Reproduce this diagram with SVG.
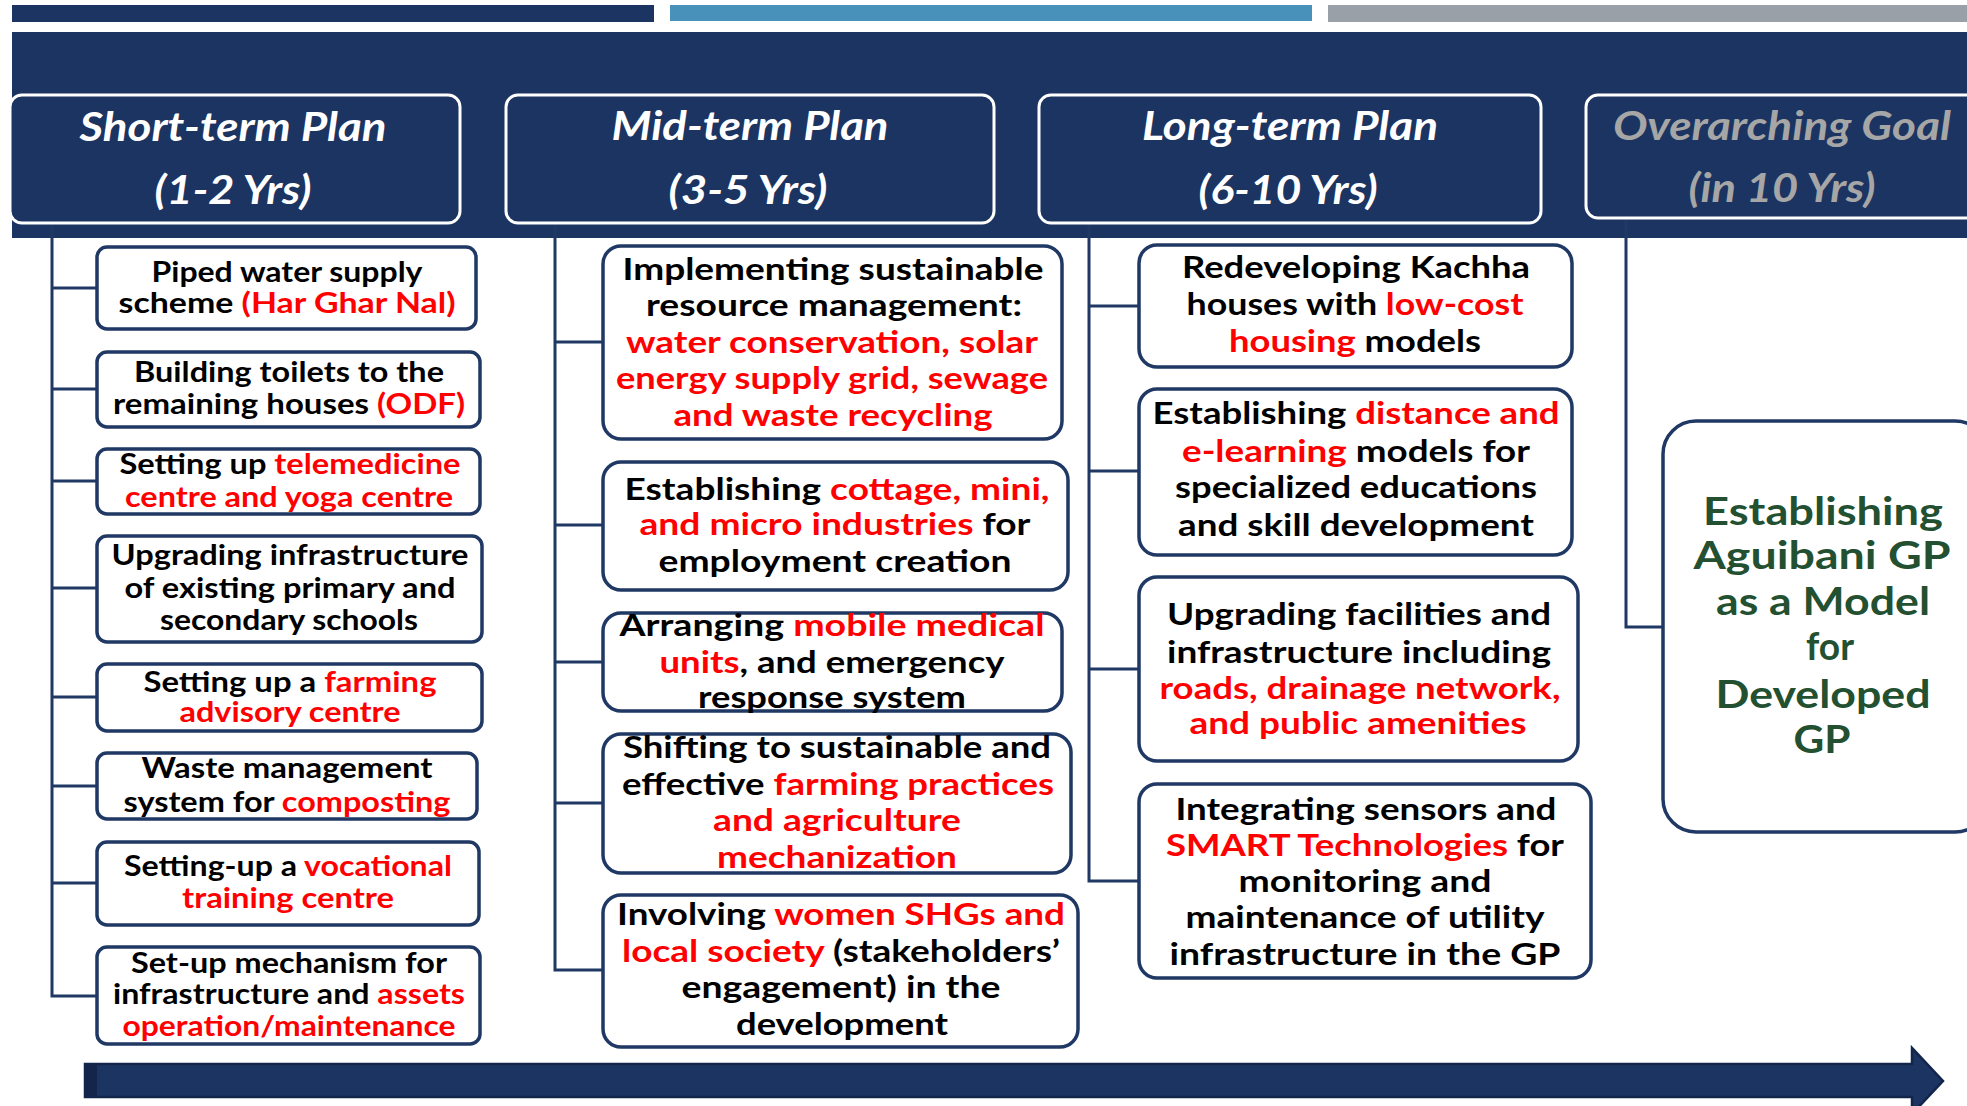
<svg xmlns="http://www.w3.org/2000/svg" width="1967" height="1106" viewBox="0 0 1967 1106">
<style>
.box{fill:#fff;stroke:#1f3864;stroke-width:3.5}
.hdr{fill:#1c3461;stroke:#fff;stroke-width:3}
.t{font-family:Lato,"Open Sans","Liberation Sans",sans-serif;font-weight:700;font-size:28px;fill:#000;text-anchor:middle}
.t2{font-size:29.5px}
.r{fill:#ff0000}
.h{font-family:Lato,"Open Sans","Liberation Sans",sans-serif;font-weight:700;font-style:italic;font-size:40px;fill:#fff;text-anchor:middle}
.gr{fill:#a6a6a6}
.goal{font-size:39px;fill:#235030}
.conn{stroke:#1f3864;stroke-width:3;fill:none}
</style>
<rect width="1967" height="1106" fill="#fff"/>
<g id="topbars">
<rect x="12" y="5" width="642" height="17" fill="#1c3461"/>
<rect x="670" y="5" width="642" height="16" fill="#4891ba"/>
<rect x="1328" y="5" width="639" height="17" fill="#9aa0a8"/>
</g>
<rect id="band" x="12" y="32" width="1955" height="206" fill="#1c3461"/>
<g id="connectors">
<path class="conn" d="M52,223 V996 H97 M52,288 H97 M52,389 H97 M52,481 H97 M52,588 H97 M52,697 H97 M52,786 H97 M52,883 H97"/>
<path class="conn" d="M555,223 V970 H603 M555,342 H603 M555,525 H603 M555,662 H603 M555,803 H603"/>
<path class="conn" d="M1089,223 V881 H1139 M1089,306 H1139 M1089,471 H1139 M1089,669 H1139"/>
<path class="conn" d="M1626,218 V627 H1663"/>
</g>
<g id="hdr-short">
<rect class="hdr" x="10" y="95" width="450" height="128" rx="12"/>
<text class="h" x="233" y="141" textLength="307" lengthAdjust="spacingAndGlyphs">Short-term Plan</text>
<text class="h" x="233" y="204" textLength="157" lengthAdjust="spacingAndGlyphs">(1-2 Yrs)</text>
</g>
<g id="hdr-mid">
<rect class="hdr" x="506" y="95" width="488" height="128" rx="12"/>
<text class="h" x="750" y="140" textLength="277" lengthAdjust="spacingAndGlyphs">Mid-term Plan</text>
<text class="h" x="748" y="204" textLength="159" lengthAdjust="spacingAndGlyphs">(3-5 Yrs)</text>
</g>
<g id="hdr-long">
<rect class="hdr" x="1039" y="95" width="502" height="128" rx="12"/>
<text class="h" x="1290" y="140" textLength="296" lengthAdjust="spacingAndGlyphs">Long-term Plan</text>
<text class="h" x="1288" y="204" textLength="179" lengthAdjust="spacingAndGlyphs">(6-10 Yrs)</text>
</g>
<g id="hdr-goal">
<rect class="hdr" x="1586" y="95" width="400" height="123" rx="12"/>
<text class="h gr" x="1782" y="140" textLength="338" lengthAdjust="spacingAndGlyphs">Overarching Goal</text>
<text class="h gr" x="1782" y="202" textLength="187" lengthAdjust="spacingAndGlyphs">(in 10 Yrs)</text>
</g>
<g id="s1">
<rect class="box" x="97" y="247" width="379" height="82" rx="10"/>
<text class="t" x="287" y="282" textLength="271" lengthAdjust="spacingAndGlyphs">Piped water supply</text>
<text class="t" x="287" y="313" textLength="337" lengthAdjust="spacingAndGlyphs">scheme <tspan class="r">(Har Ghar Nal)</tspan></text>
</g>
<g id="s2">
<rect class="box" x="97" y="352" width="383" height="75" rx="10"/>
<text class="t" x="289" y="382" textLength="310" lengthAdjust="spacingAndGlyphs">Building toilets to the</text>
<text class="t" x="289" y="414" textLength="352" lengthAdjust="spacingAndGlyphs">remaining houses <tspan class="r">(ODF)</tspan></text>
</g>
<g id="s3">
<rect class="box" x="97" y="449" width="383" height="65" rx="10"/>
<text class="t" x="290" y="474" textLength="341" lengthAdjust="spacingAndGlyphs">Setting up <tspan class="r">telemedicine</tspan></text>
<text class="t r" x="289" y="507" textLength="328" lengthAdjust="spacingAndGlyphs">centre and yoga centre</text>
</g>
<g id="s4">
<rect class="box" x="97" y="536" width="385" height="106" rx="10"/>
<text class="t" x="290" y="565" textLength="357" lengthAdjust="spacingAndGlyphs">Upgrading infrastructure</text>
<text class="t" x="290" y="598" textLength="331" lengthAdjust="spacingAndGlyphs">of existing primary and</text>
<text class="t" x="289" y="630" textLength="258" lengthAdjust="spacingAndGlyphs">secondary schools</text>
</g>
<g id="s5">
<rect class="box" x="97" y="664" width="385" height="67" rx="10"/>
<text class="t" x="290" y="692" textLength="293" lengthAdjust="spacingAndGlyphs">Setting up a <tspan class="r">farming</tspan></text>
<text class="t r" x="290" y="722" textLength="221" lengthAdjust="spacingAndGlyphs">advisory centre</text>
</g>
<g id="s6">
<rect class="box" x="97" y="753" width="380" height="66" rx="10"/>
<text class="t" x="287" y="778" textLength="291" lengthAdjust="spacingAndGlyphs">Waste management</text>
<text class="t" x="287" y="812" textLength="327" lengthAdjust="spacingAndGlyphs">system for <tspan class="r">composting</tspan></text>
</g>
<g id="s7">
<rect class="box" x="97" y="842" width="382" height="83" rx="10"/>
<text class="t" x="288" y="876" textLength="328" lengthAdjust="spacingAndGlyphs">Setting-up a <tspan class="r">vocational</tspan></text>
<text class="t r" x="288" y="908" textLength="212" lengthAdjust="spacingAndGlyphs">training centre</text>
</g>
<g id="s8">
<rect class="box" x="97" y="947" width="383" height="97" rx="10"/>
<text class="t" x="289" y="973" textLength="316" lengthAdjust="spacingAndGlyphs">Set-up mechanism for</text>
<text class="t" x="289" y="1004" textLength="352" lengthAdjust="spacingAndGlyphs">infrastructure and <tspan class="r">assets</tspan></text>
<text class="t r" x="289" y="1036" textLength="333" lengthAdjust="spacingAndGlyphs">operation/maintenance</text>
</g>
<g id="m1">
<rect class="box" x="603" y="246" width="459" height="193" rx="18"/>
<text class="t t2" x="833" y="280" textLength="421" lengthAdjust="spacingAndGlyphs">Implementing sustainable</text>
<text class="t t2" x="834" y="316" textLength="376" lengthAdjust="spacingAndGlyphs">resource management:</text>
<text class="t t2 r" x="832" y="353" textLength="412" lengthAdjust="spacingAndGlyphs">water conservation, solar</text>
<text class="t t2 r" x="832" y="389" textLength="432" lengthAdjust="spacingAndGlyphs">energy supply grid, sewage</text>
<text class="t t2 r" x="833" y="426" textLength="319" lengthAdjust="spacingAndGlyphs">and waste recycling</text>
</g>
<g id="m2">
<rect class="box" x="603" y="462" width="465" height="128" rx="18"/>
<text class="t t2" x="837" y="500" textLength="425" lengthAdjust="spacingAndGlyphs">Establishing <tspan class="r">cottage, mini,</tspan></text>
<text class="t t2" x="835" y="535" textLength="391" lengthAdjust="spacingAndGlyphs"><tspan class="r">and micro industries</tspan> for</text>
<text class="t t2" x="835" y="572" textLength="353" lengthAdjust="spacingAndGlyphs">employment creation</text>
</g>
<g id="m3">
<rect class="box" x="603" y="613" width="459" height="98" rx="18"/>
<text class="t t2" x="832" y="636" textLength="425" lengthAdjust="spacingAndGlyphs">Arranging <tspan class="r">mobile medical</tspan></text>
<text class="t t2" x="832" y="673" textLength="345" lengthAdjust="spacingAndGlyphs"><tspan class="r">units</tspan>, and emergency</text>
<text class="t t2" x="832" y="708" textLength="268" lengthAdjust="spacingAndGlyphs">response system</text>
</g>
<g id="m4">
<rect class="box" x="603" y="734" width="468" height="139" rx="18"/>
<text class="t t2" x="837" y="758" textLength="428" lengthAdjust="spacingAndGlyphs">Shifting to sustainable and</text>
<text class="t t2" x="838" y="795" textLength="432" lengthAdjust="spacingAndGlyphs">effective <tspan class="r">farming practices</tspan></text>
<text class="t t2 r" x="837" y="831" textLength="248" lengthAdjust="spacingAndGlyphs">and agriculture</text>
<text class="t t2 r" x="837" y="868" textLength="240" lengthAdjust="spacingAndGlyphs">mechanization</text>
</g>
<g id="m5">
<rect class="box" x="603" y="895" width="475" height="152" rx="18"/>
<text class="t t2" x="841" y="925" textLength="448" lengthAdjust="spacingAndGlyphs">Involving <tspan class="r">women SHGs and</tspan></text>
<text class="t t2" x="841" y="962" textLength="438" lengthAdjust="spacingAndGlyphs"><tspan class="r">local society</tspan> (stakeholders’</text>
<text class="t t2" x="841" y="998" textLength="319" lengthAdjust="spacingAndGlyphs">engagement) in the</text>
<text class="t t2" x="842" y="1035" textLength="212" lengthAdjust="spacingAndGlyphs">development</text>
</g>
<g id="l1">
<rect class="box" x="1139" y="245" width="433" height="122" rx="18"/>
<text class="t t2" x="1356" y="278" textLength="348" lengthAdjust="spacingAndGlyphs">Redeveloping Kachha</text>
<text class="t t2" x="1355" y="315" textLength="337" lengthAdjust="spacingAndGlyphs">houses with <tspan class="r">low-cost</tspan></text>
<text class="t t2" x="1355" y="352" textLength="252" lengthAdjust="spacingAndGlyphs"><tspan class="r">housing</tspan> models</text>
</g>
<g id="l2">
<rect class="box" x="1139" y="389" width="433" height="166" rx="18"/>
<text class="t t2" x="1356" y="424" textLength="407" lengthAdjust="spacingAndGlyphs">Establishing <tspan class="r">distance and</tspan></text>
<text class="t t2" x="1356" y="462" textLength="348" lengthAdjust="spacingAndGlyphs"><tspan class="r">e-learning</tspan> models for</text>
<text class="t t2" x="1356" y="498" textLength="362" lengthAdjust="spacingAndGlyphs">specialized educations</text>
<text class="t t2" x="1356" y="536" textLength="356" lengthAdjust="spacingAndGlyphs">and skill development</text>
</g>
<g id="l3">
<rect class="box" x="1139" y="577" width="439" height="184" rx="18"/>
<text class="t t2" x="1359" y="625" textLength="384" lengthAdjust="spacingAndGlyphs">Upgrading facilities and</text>
<text class="t t2" x="1359" y="663" textLength="384" lengthAdjust="spacingAndGlyphs">infrastructure including</text>
<text class="t t2 r" x="1360" y="699" textLength="401" lengthAdjust="spacingAndGlyphs">roads, drainage network,</text>
<text class="t t2 r" x="1358" y="734" textLength="337" lengthAdjust="spacingAndGlyphs">and public amenities</text>
</g>
<g id="l4">
<rect class="box" x="1139" y="784" width="452" height="194" rx="18"/>
<text class="t t2" x="1366" y="820" textLength="381" lengthAdjust="spacingAndGlyphs">Integrating sensors and</text>
<text class="t t2" x="1365" y="856" textLength="398" lengthAdjust="spacingAndGlyphs"><tspan class="r">SMART Technologies</tspan> for</text>
<text class="t t2" x="1365" y="892" textLength="253" lengthAdjust="spacingAndGlyphs">monitoring and</text>
<text class="t t2" x="1365" y="928" textLength="359" lengthAdjust="spacingAndGlyphs">maintenance of utility</text>
<text class="t t2" x="1365" y="965" textLength="391" lengthAdjust="spacingAndGlyphs">infrastructure in the GP</text>
</g>
<g id="goal">
<rect class="box" x="1663" y="421" width="325" height="411" rx="33"/>
<text class="t goal" x="1823" y="525" textLength="240" lengthAdjust="spacingAndGlyphs">Establishing</text>
<text class="t goal" x="1822" y="569" textLength="257" lengthAdjust="spacingAndGlyphs">Aguibani GP</text>
<text class="t goal" x="1823" y="615" textLength="214" lengthAdjust="spacingAndGlyphs">as a Model</text>
<text class="t goal" x="1830" y="660" textLength="48" lengthAdjust="spacingAndGlyphs">for</text>
<text class="t goal" x="1823" y="708" textLength="215" lengthAdjust="spacingAndGlyphs">Developed</text>
<text class="t goal" x="1822" y="753" textLength="57" lengthAdjust="spacingAndGlyphs">GP</text>
</g>
<g id="timeline-arrow">
<path d="M85,1064 H1912 V1048 L1943,1081 L1912,1114 V1097 H85 Z" fill="#1c3461" stroke="#13254a" stroke-width="2.5"/>
<rect x="85" y="1064" width="12" height="33" fill="#13254a"/>
</g>
</svg>
